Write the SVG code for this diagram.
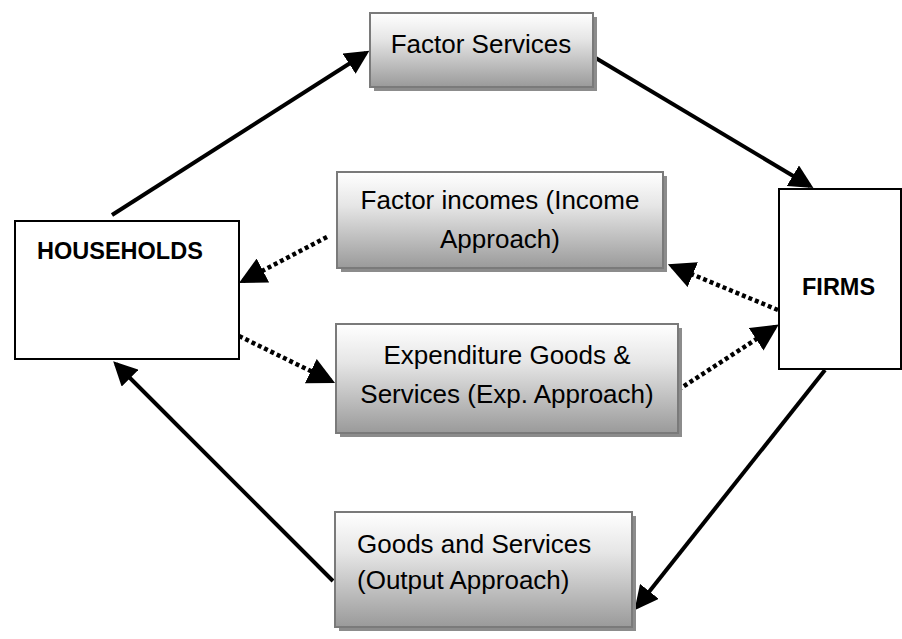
<svg xmlns="http://www.w3.org/2000/svg" width="902" height="639" viewBox="0 0 902 639">
<defs>
<linearGradient id="g" x1="0" y1="0" x2="0" y2="1">
<stop offset="0" stop-color="#ffffff"/>
<stop offset="0.35" stop-color="#e6e6e6"/>
<stop offset="1" stop-color="#9a9a9a"/>
</linearGradient>
<marker id="ah" markerWidth="6" markerHeight="6" refX="5" refY="3" orient="auto" markerUnits="strokeWidth">
<path d="M0,0 L6,3 L0,6 z" fill="#000"/>
</marker>
<marker id="ad" markerWidth="6" markerHeight="6" refX="5" refY="3" orient="auto" markerUnits="strokeWidth">
<path d="M0,0 L6,3 L0,6 z" fill="#000"/>
</marker>
</defs>
<style>
.sh{fill:#8c8c8c}
.bx{fill:url(#g);stroke:#7a7a7a;stroke-width:2}
.wb{fill:#fff;stroke:#000;stroke-width:2}
.t{font-family:"Liberation Sans",Arial,sans-serif;font-size:26px;fill:#000}
.b{font-family:"Liberation Sans",Arial,sans-serif;font-size:23.5px;font-weight:bold;fill:#000}
.s{fill:none;stroke:#000;stroke-width:4;marker-end:url(#ah)}
.d{fill:none;stroke:#000;stroke-width:4.5;stroke-dasharray:4 3;marker-end:url(#ad)}
</style>
<rect width="902" height="639" fill="#fff"/>
<g id="connectors">
<line class="s" x1="112" y1="215" x2="366" y2="53"/>
<line class="s" x1="594" y1="57" x2="810" y2="186"/>
<line class="d" x1="778" y1="310" x2="672" y2="266"/>
<line class="d" x1="327" y1="237" x2="243" y2="281"/>
<line class="d" x1="239" y1="336" x2="331" y2="381"/>
<line class="d" x1="678" y1="390" x2="775" y2="327"/>
<line class="s" x1="825" y1="370" x2="637" y2="607"/>
<line class="s" x1="333" y1="581" x2="116" y2="364"/>
</g>
<g id="households">
<rect class="wb" x="15" y="221" width="224" height="138"/>
<text class="b" x="37" y="259">HOUSEHOLDS</text>
</g>
<g id="firms">
<rect class="wb" x="779" y="189" width="122" height="180"/>
<text class="b" x="802" y="295">FIRMS</text>
</g>
<g id="factor-services">
<rect class="sh" x="374" y="17" width="223" height="74"/>
<rect class="bx" x="370" y="13" width="223" height="74"/>
<text class="t" x="481" y="53" text-anchor="middle">Factor Services</text>
</g>
<g id="factor-incomes">
<rect class="sh" x="341" y="176" width="326" height="96"/>
<rect class="bx" x="337" y="172" width="326" height="96"/>
<text class="t" x="500" y="209" text-anchor="middle">Factor incomes (Income</text>
<text class="t" x="500" y="248" text-anchor="middle">Approach)</text>
</g>
<g id="expenditure">
<rect class="sh" x="340" y="328" width="342" height="109"/>
<rect class="bx" x="336" y="324" width="342" height="109"/>
<text class="t" x="507" y="364" text-anchor="middle">Expenditure Goods &amp;</text>
<text class="t" x="507" y="403" text-anchor="middle">Services (Exp. Approach)</text>
</g>
<g id="goods-services">
<rect class="sh" x="339" y="516" width="297" height="115"/>
<rect class="bx" x="335" y="512" width="297" height="115"/>
<text class="t" x="357" y="553">Goods and Services</text>
<text class="t" x="357" y="589">(Output Approach)</text>
</g>
</svg>
